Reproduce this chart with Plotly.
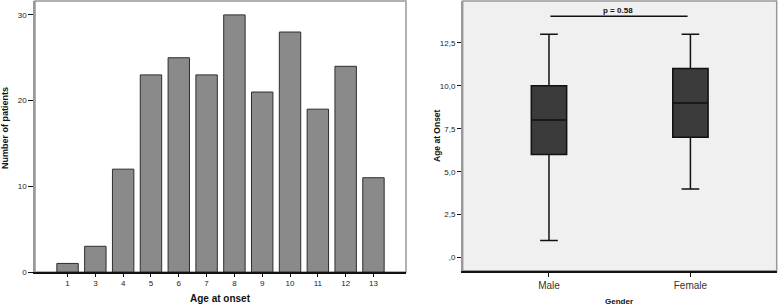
import plotly.graph_objects as go

# Left chart data
ages = ["1", "3", "4", "5", "6", "7", "8", "9", "10", "11", "12", "13"]
patients = [1, 3, 12, 23, 25, 23, 30, 21, 28, 19, 24, 11]
left_yticks = [0, 10, 20, 30]

# Right chart data
genders = ["Male", "Female"]
lower = [1, 4]
q1 = [6, 7]
median = [8, 9]
q3 = [10, 11]
upper = [13, 13]
right_ytickvals = [0, 2.5, 5, 7.5, 10, 12.5]
right_yticktext = [",0", "2,5", "5,0", "7,5", "10,0", "12,5"]
p_label = "p = 0.58"

FONT = "Liberation Sans, Arial, sans-serif"

fig = go.Figure()

fig.add_trace(go.Bar(
    x=ages, y=patients, xaxis="x", yaxis="y",
    marker=dict(color="#8a8a8a", line=dict(color="#2e2e2e", width=1)),
    showlegend=False,
))

for i, g in enumerate(genders):
    fig.add_trace(go.Box(
        x=[g], q1=[q1[i]], median=[median[i]], q3=[q3[i]],
        lowerfence=[lower[i]], upperfence=[upper[i]],
        xaxis="x2", yaxis="y2", width=0.25, whiskerwidth=0.5,
        fillcolor="#3b3b3b", line=dict(color="#111111", width=1.5),
        showlegend=False, boxpoints=False,
    ))

L = dict(x0=35/778, x1=406/778, y0=1-272/305, y1=1-1/305)
R = dict(x0=462.7/778, x1=776.7/778, y0=1-270.7/305, y1=1-1/305)


def ann(text, x, y, size, angle=0):
    return dict(text=text, xref="paper", yref="paper", x=x/778, y=1-y/305,
                xanchor="center", yanchor="middle", showarrow=False,
                textangle=angle, font=dict(size=size, color="#111"))


fig.update_layout(
    width=778, height=305,
    margin=dict(l=0, r=0, t=0, b=0),
    paper_bgcolor="white", plot_bgcolor="white",
    bargap=0.23,
    font=dict(family=FONT, color="#222"),
    xaxis=dict(domain=[L["x0"], L["x1"]], anchor="y", type="category", automargin=False,
               range=[-1.17, 12.17], showline=True, linecolor="#111", linewidth=1.5,
               ticks="outside", ticklen=3, tickcolor="#111",
               tickfont=dict(size=8, color="#222"), showgrid=False, zeroline=False),
    yaxis=dict(domain=[L["y0"], L["y1"]], anchor="x", range=[0, 31.62], automargin=False,
               tickvals=left_yticks, showline=True, linecolor="#999", linewidth=1.5,
               ticks="outside", ticklen=5, tickcolor="#111",
               tickfont=dict(size=8, color="#222"), showgrid=False, zeroline=False),
    xaxis2=dict(domain=[R["x0"], R["x1"]], anchor="y2", type="category", automargin=False,
                range=[-0.61, 1.61], showline=True, linecolor="#111", linewidth=1.5,
                ticks="outside", ticklen=5, tickcolor="#111",
                tickfont=dict(size=10, color="#333"), showgrid=False, zeroline=False),
    yaxis2=dict(domain=[R["y0"], R["y1"]], anchor="x2", range=[-0.76, 14.93], automargin=False,
                tickvals=right_ytickvals, ticktext=right_yticktext,
                showline=True, linecolor="#999", linewidth=1.5,
                ticks="outside", ticklen=4, tickcolor="#111",
                tickfont=dict(size=8, color="#222"), showgrid=False, zeroline=False),
    shapes=[
        dict(type="rect", xref="paper", yref="paper", layer="below",
             x0=R["x0"], x1=R["x1"], y0=R["y0"], y1=R["y1"],
             fillcolor="#f0f0f0", line=dict(color="#999", width=1.5)),
        dict(type="rect", xref="paper", yref="paper", layer="below",
             x0=L["x0"], x1=L["x1"], y0=L["y0"], y1=L["y1"],
             fillcolor="white", line=dict(color="#999", width=1.5)),
        dict(type="line", xref="x2", yref="y2", x0=0.01, x1=0.98, y0=14.05, y1=14.05,
             line=dict(color="#111", width=1.5)),
    ],
    annotations=[
        ann("<b>Age at onset</b>", 220, 298, 10),
        ann("<b>Number of patients</b>", 5, 128, 9, -90),
        ann("<b>Gender</b>", 619, 301, 8),
        ann("<b>Age at Onset</b>", 437, 136, 8.5, -90),
        ann("<b>" + p_label + "</b>", 618, 10.5, 8),
    ],
)

fig.write_html("out.html", config={"displayModeBar": False},
               post_script="document.body.style.margin='0';document.body.style.overflow='hidden';")
